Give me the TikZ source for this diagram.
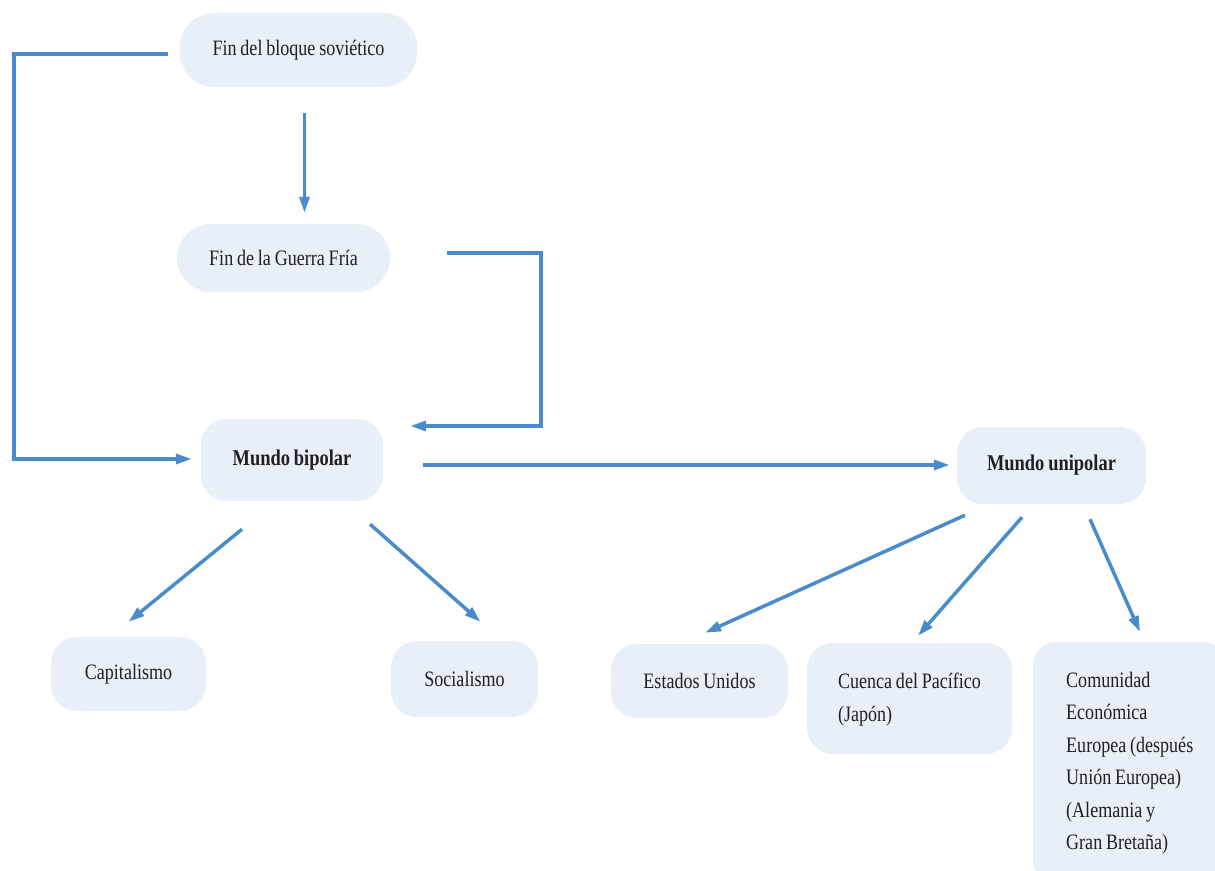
\documentclass[tikz,border=0pt]{standalone}
\usepackage{fontspec}
\setmainfont{Liberation Serif}[FakeStretch=0.82, WordSpace=0.85]
\usepackage{xcolor}
\definecolor{cb}{HTML}{4A8CCB}
\definecolor{cf}{HTML}{E8EFF8}
\definecolor{ct}{HTML}{231F20}
\usepackage{tikz}
\usetikzlibrary{arrows.meta}

\begin{document}
\begin{tikzpicture}[
  x=1pt, y=-1pt,
  box/.style={rectangle, rounded corners=26pt, fill=cf, text=ct, inner sep=0pt,
    font=\fontsize{22}{32.5}\selectfont},
  pill/.style={box, rounded corners=34pt},
  bold/.style={font=\fontsize{22.5}{32}\selectfont\bfseries},
  arr/.style={draw=cb, line width=3.5pt, -{Triangle[length=16pt,width=10pt]}},
]
  \useasboundingbox (0,0) rectangle (1215,870);
  \node[pill, minimum width=237pt, minimum height=74pt] (bloque) at (298.5,50) {Fin del bloque soviético};
  \node[pill, minimum width=213pt, minimum height=68pt] (guerra) at (283.5,258) {Fin de la Guerra Fría};
  \node[box, bold, minimum width=182pt, minimum height=82pt] (bipolar) at (292,460) {Mundo bipolar};
  \node[box, bold, minimum width=189pt, minimum height=77pt] (unipolar) at (1051.5,465.5) {Mundo unipolar};
  \node[box, minimum width=155pt, minimum height=74pt] (capital) at (128.5,674) {Capitalismo};
  \node[box, minimum width=147pt, minimum height=76pt] (social) at (464.5,679) {Socialismo};
  \node[box, minimum width=177pt, minimum height=74pt] (eeuu) at (699.5,681) {Estados Unidos};
  \node[box, minimum width=205pt, minimum height=111pt] (cuenca) at (909.5,698.5)
    {\begin{tabular}{@{}l@{}}Cuenca del Pacífico\\(Japón)\end{tabular}};
  \node[box, anchor=north west, rounded corners=22pt, minimum height=240pt, inner xsep=33pt] (comunidad) at (1033,642)
    {\begin{tabular}{@{}l@{}}Comunidad\\Económica\\Europea (después\\Unión Europea)\\(Alemania y\\Gran Bretaña)\end{tabular}};

  % bucles
  \coordinate (lcorner) at (14,54);
  \coordinate (rcorner) at (541,253);

  \draw[arr, shorten <=26pt, shorten >=11pt] ([xshift=6pt]bloque.south) -- ([xshift=6pt]bloque.south |- guerra.north);
  \draw[arr] ([xshift=-12pt,yshift=-4pt]bloque.west) -- (lcorner) |- ([xshift=-9pt,yshift=1pt]bipolar.west);
  \draw[arr] ([xshift=57pt,yshift=5pt]guerra.east) -- (rcorner) |- ([xshift=27pt,yshift=34pt]bipolar.east);
  \draw[arr, shorten <=40pt, shorten >=7pt] ([yshift=-5pt]bipolar.east) -- ([yshift=-5pt]bipolar.east -| unipolar.west);

  % ramas
  \draw[arr] ([xshift=-50pt,yshift=-28pt]bipolar.south) -- ([yshift=15pt]capital.north);
  \draw[arr] ([xshift=78pt,yshift=-23pt]bipolar.south) -- ([xshift=16pt,yshift=19pt]social.north);
  \draw[arr] ([xshift=-86.5pt,yshift=-11pt]unipolar.south) -- ([xshift=5.5pt,yshift=11pt]eeuu.north);
  \draw[arr] ([xshift=-29.5pt,yshift=-13pt]unipolar.south) -- ([xshift=8.5pt,yshift=7pt]cuenca.north);
  \draw[arr] ([xshift=38.5pt,yshift=-15pt]unipolar.south) -- ([xshift=107pt,yshift=10pt]comunidad.north west);
\end{tikzpicture}
\end{document}
